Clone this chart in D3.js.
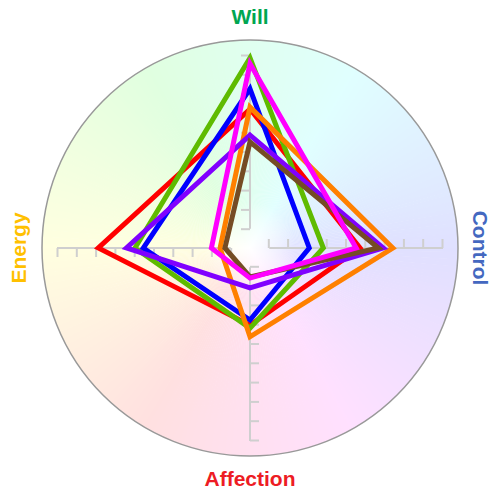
<!DOCTYPE html>
<head>
  <meta charset="utf-8">
  <script src="https://d3js.org/d3.v7.min.js"></script>
  <style>
    body { margin: 0; background: #fff; }
    .label { font-family: "Liberation Sans", Arial, sans-serif; font-weight: bold; font-size: 21px; }
    .axis path, .axis line { stroke: #cfcfcf; stroke-width: 2; }
  </style>
</head>
<body>
  <svg width="491" height="494"></svg>
  <script>

  // axes, clockwise from the top
  var axes = ["Will", "Control", "Affection", "Energy"];
  var axisColors = ["#00a651", "#4468c0", "#ed1c24", "#ffc000"];
  var tickValues = [1, 2, 3, 4, 5, 6, 7, 8, 9, 10];

  // series values, in the order of the axes above
  var red     = [7.2, 5.7, 4.0, 7.86];
  var green   = [9.85, 3.8, 4.15, 5.96];
  var blue    = [8.25, 3.07, 3.73, 5.53];
  var orange  = [7.3, 7.4, 4.6, 1.55];
  var purple  = [5.85, 6.9, 2.07, 6.4];
  var brown   = [5.5, 6.65, 1.5, 1.3];
  var magenta = [9.55, 5.5, 1.56, 2.0];
  var series = [red, green, blue, orange, purple, brown, magenta];
  var seriesColors = ["#ff0000", "#5fbb00", "#0000ff", "#ff8000", "#8000ff", "#754c24", "#ff00ff"];

  var svg = d3.select('svg');
  var cx = 250, cy = 248, outer = 208;

  var r = d3.scaleLinear().domain([0, 10]).range([0, 193]);

  var g = svg.append('g').attr('transform', 'translate(' + cx + ',' + cy + ')');

  // colour wheel background
  var defs = svg.append('defs');
  var rg = defs.append('radialGradient').attr('id', 'fade');
  rg.append('stop').attr('offset', '0%').attr('stop-color', '#fff').attr('stop-opacity', 1);
  rg.append('stop').attr('offset', '22%').attr('stop-color', '#fff').attr('stop-opacity', 0);

  var wedge = d3.arc().innerRadius(0).outerRadius(outer);
  g.append('g').selectAll('path')
    .data(d3.range(360))
    .enter().append('path')
    .attr('d', function(d) {
      return wedge({startAngle: d * Math.PI / 180, endAngle: (d + 1.2) * Math.PI / 180});
    })
    .attr('fill', function(d) { return d3.hsl(150 + d, 1, 0.94); });

  g.append('circle').attr('r', outer).attr('fill', 'url(#fade)');
  g.append('circle').attr('r', outer).attr('fill', 'none')
    .attr('stroke', '#999').attr('stroke-width', 1.5);

  // one axis per direction, rotated around the centre
  var ay = d3.scaleLinear().domain([0, 10]).range([0, -193]);
  axes.forEach(function(a, i) {
    g.append('g')
      .attr('class', 'axis')
      .attr('transform', 'rotate(' + (i * 90) + ')')
      .call(d3.axisLeft(ay).tickValues(tickValues).tickSize(9).tickSizeOuter(0).tickFormat(''))
      .call(function(s) {
        s.select('.domain').attr('d', 'M0,' + ay(1) + 'V' + ay(10)).attr('fill', 'none');
      });
  });

  // series
  var line = d3.lineRadial()
    .angle(function(d, i) { return i * Math.PI / 2; })
    .radius(function(d) { return r(d); })
    .curve(d3.curveLinearClosed);

  g.selectAll('.series')
    .data(series)
    .enter().append('path')
    .attr('class', 'series')
    .attr('d', line)
    .attr('fill', 'none')
    .attr('stroke', function(d, i) { return seriesColors[i]; })
    .attr('stroke-width', 5)
    .attr('stroke-linejoin', 'miter');

  // labels
  svg.append('text').attr('class', 'label').attr('x', cx).attr('y', 24)
    .attr('text-anchor', 'middle').attr('fill', axisColors[0]).text(axes[0]);
  svg.append('text').attr('class', 'label')
    .attr('transform', 'translate(473,' + cy + ') rotate(90)')
    .attr('text-anchor', 'middle').attr('fill', axisColors[1]).text(axes[1]);
  svg.append('text').attr('class', 'label').attr('x', cx).attr('y', 486)
    .attr('text-anchor', 'middle').attr('fill', axisColors[2]).text(axes[2]);
  svg.append('text').attr('class', 'label')
    .attr('transform', 'translate(26,' + cy + ') rotate(-90)')
    .attr('text-anchor', 'middle').attr('fill', axisColors[3]).text(axes[3]);

  </script>
</body>
